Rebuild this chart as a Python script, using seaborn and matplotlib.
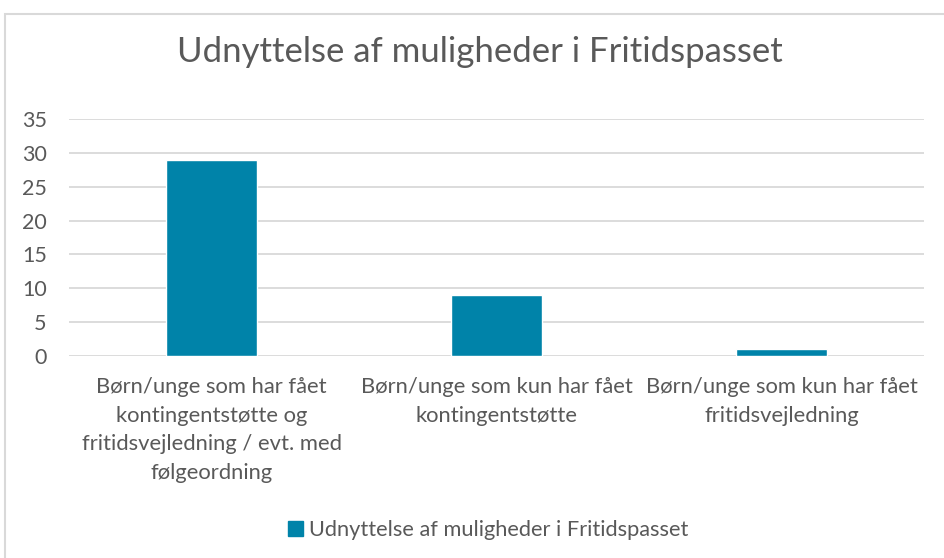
import matplotlib
matplotlib.use("Agg")
import matplotlib.pyplot as plt
import seaborn as sns
import pandas as pd
from matplotlib.patches import Rectangle, Patch

categories = [
    "Børn/unge som har fået\nkontingentstøtte og\nfritidsvejledning / evt. med\nfølgeordning",
    "Børn/unge som kun har fået\nkontingentstøtte",
    "Børn/unge som kun har fået\nfritidsvejledning",
]
values = [29, 9, 1]
series_name = "Udnyttelse af muligheder i Fritidspasset"
title = "Udnyttelse af muligheder i Fritidspasset"

bar_color = "#0083A9"
text_color = "#595959"
grid_color = "#D9D9D9"

sns.set_theme(style="white")
plt.rcParams["font.family"] = ["Lato", "DejaVu Sans"]

df = pd.DataFrame({"cat": categories, "val": values})

fig = plt.figure(figsize=(9.44, 5.58), dpi=100)
ax = fig.add_axes([69/944, 1 - 356/558, (924-69)/944, (356-119)/558])

sns.barplot(data=df, x="cat", y="val", color=bar_color, width=0.316,
            saturation=1, ax=ax, zorder=3)

ax.set_ylim(0, 35)
ax.set_yticks(range(0, 36, 5))
ax.set_xlim(-0.5, 2.5)
ax.yaxis.grid(True, color=grid_color, linewidth=1.3, zorder=0)
ax.set_axisbelow(True)
for s in ax.spines.values():
    s.set_visible(False)
ax.set_xlabel("")
ax.set_ylabel("")
ax.tick_params(axis="y", length=0, pad=16, labelsize=15.5, labelcolor=text_color)
ax.tick_params(axis="x", length=0, pad=15, labelsize=15.8, labelcolor=text_color)
for lbl in ax.get_xticklabels():
    lbl.set_linespacing(1.55)

fig.text(480/944, 1 - 52/558, title, ha="center", va="center",
         fontsize=25, color=text_color)

fig.legend(handles=[Patch(color=bar_color, label=series_name)],
           loc="center", bbox_to_anchor=(488/944, 1 - 530/558),
           frameon=False, fontsize=15.7, labelcolor=text_color,
           handlelength=0.7, handleheight=0.7, handletextpad=0.25)

fig.patches.append(Rectangle((5/944, -0.01), 1.0, 1 - 14/558 + 0.01,
                             transform=fig.transFigure, fill=False,
                             edgecolor="#D9D9D9", linewidth=1.5))

fig.savefig("out.png", dpi=100)
